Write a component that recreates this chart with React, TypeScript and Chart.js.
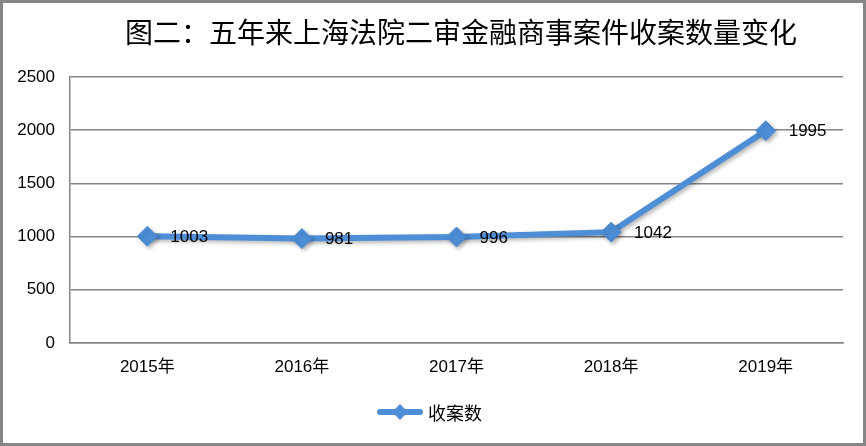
import React, { useEffect, useRef } from 'react';
import { Chart, registerables } from 'chart.js';

Chart.register(...registerables);

const titleText = '图二：五年来上海法院二审金融商事案件收案数量变化';
const categories = ['2015年', '2016年', '2017年', '2018年', '2019年'];
const seriesName = '收案数';
const caseCounts = [1003, 981, 996, 1042, 1995];
const yMin = 0;
const yMax = 2500;
const yStep = 500;

const BLUE = '#4d8ed6';
const GRID = '#868686';
const SANS = "'Liberation Sans', 'Noto Sans CJK SC', sans-serif";
const CJK = "'Noto Sans CJK SC', sans-serif";

const decor = {
  id: 'decor',
  beforeDatasetsDraw(chart: any) {
    const ctx = chart.ctx;
    ctx.save();
    ctx.shadowColor = 'rgba(0,0,0,0.3)';
    ctx.shadowBlur = 4;
    ctx.shadowOffsetX = 2;
    ctx.shadowOffsetY = 2;
  },
  afterDatasetsDraw(chart: any) {
    const ctx = chart.ctx;
    ctx.restore();
    const meta = chart.getDatasetMeta(0);
    ctx.save();
    ctx.fillStyle = '#000';
    ctx.font = `17px ${SANS}`;
    ctx.textAlign = 'left';
    ctx.textBaseline = 'middle';
    meta.data.forEach((pt: any, i: number) => {
      ctx.fillText(String(chart.data.datasets[0].data[i]), pt.x + 23, pt.y + 1);
    });
    ctx.restore();
  },
  afterDraw(chart: any) {
    const ctx = chart.ctx;
    const W = chart.width;
    const H = chart.height;
    ctx.save();
    // outer border
    ctx.strokeStyle = GRID;
    ctx.lineWidth = 3;
    ctx.strokeRect(1.5, 1.5, W - 3, H - 3);
    // title
    ctx.fillStyle = '#000';
    ctx.font = `28px ${CJK}`;
    ctx.textAlign = 'center';
    ctx.textBaseline = 'middle';
    ctx.fillText(titleText, 461, 32);
    // legend
    const ly = 412;
    ctx.strokeStyle = BLUE;
    ctx.lineWidth = 6;
    ctx.lineCap = 'round';
    ctx.beginPath();
    ctx.moveTo(380, ly);
    ctx.lineTo(420, ly);
    ctx.stroke();
    ctx.fillStyle = BLUE;
    ctx.beginPath();
    ctx.moveTo(400, ly - 8);
    ctx.lineTo(408, ly);
    ctx.lineTo(400, ly + 8);
    ctx.lineTo(392, ly);
    ctx.closePath();
    ctx.fill();
    ctx.fillStyle = '#000';
    ctx.font = `18px ${CJK}`;
    ctx.textAlign = 'left';
    ctx.fillText(seriesName, 428, ly + 1);
    ctx.restore();
  },
};

export default function App() {
  const ref = useRef<HTMLCanvasElement>(null);
  useEffect(() => {
    document.body.style.margin = '0';
    const chart = new Chart(ref.current!, {
      type: 'line',
      data: {
        labels: categories,
        datasets: [
          {
            label: seriesName,
            data: caseCounts,
            borderColor: BLUE,
            backgroundColor: BLUE,
            borderWidth: 6,
            tension: 0,
            pointStyle: 'rectRot',
            pointRadius: 10,
            pointBackgroundColor: BLUE,
            pointBorderColor: BLUE,
            pointBorderWidth: 1,
          },
        ],
      },
      options: {
        responsive: false,
        animation: false,
        layout: { padding: { top: 77, left: 0, right: 23, bottom: 63 } },
        plugins: {
          legend: { display: false },
          title: { display: false },
          tooltip: { enabled: false },
        },
        scales: {
          x: {
            offset: true,
            grid: { display: false, drawTicks: false },
            border: { color: GRID, width: 1.5 },
            ticks: { padding: 14, color: '#000', font: { size: 17, family: SANS }, maxRotation: 0 },
            afterFit: (s: any) => {
              s.height = 40;
            },
          },
          y: {
            min: yMin,
            max: yMax,
            grid: { color: GRID, lineWidth: 1.5, drawTicks: false },
            border: { color: GRID, width: 1.5 },
            ticks: {
              stepSize: yStep,
              padding: 15,
              color: '#000',
              font: { size: 17, family: SANS },
              callback: (v: any) => String(v),
            },
            afterFit: (s: any) => {
              s.width = 70;
            },
          },
        },
      },
      plugins: [decor],
    });
    return () => chart.destroy();
  }, []);
  return <canvas ref={ref} width={866} height={446} style={{ display: 'block' }} />;
}
